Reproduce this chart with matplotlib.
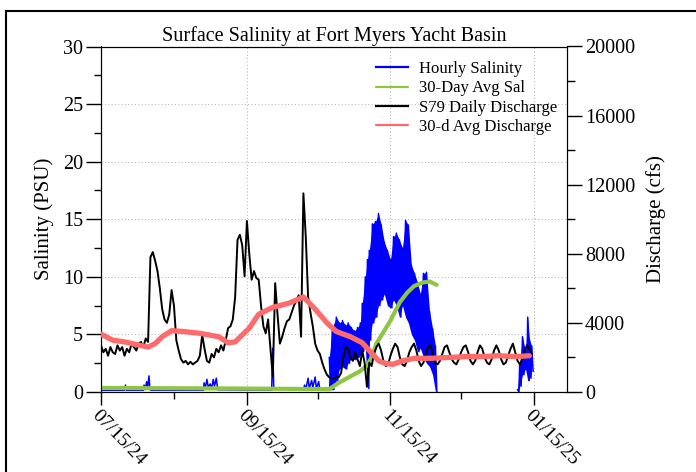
import numpy as np
import pandas as pd
import matplotlib
matplotlib.use("Agg")
import matplotlib.pyplot as plt
import matplotlib.dates as mdates
from matplotlib.patches import Rectangle

plt.rcParams['font.family'] = ['Liberation Serif', 'DejaVu Serif']

START = pd.Timestamp("2024-07-15")

# S79 daily discharge (cfs), one value per day starting 07/15/24
flow_daily = [
    2700, 2300, 2500, 2100, 2600, 2300, 2200, 2700, 2400, 2600,
    2100, 2500, 2300, 2800, 2600, 2400, 2800, 2900, 2600, 3100,
    2900, 7800, 8100, 7600, 7000, 6000, 4800, 4200, 4000, 4500,
    5900, 5000, 3000, 2400, 1900, 1700, 1800, 1600, 1750, 1600,
    1700, 1800, 2100, 3300, 2500, 1800, 1700, 2200, 2000, 2500,
    2300, 2700, 2400, 3000, 3700, 3800, 4200, 5500, 8800, 9100,
    8500, 6700, 9900, 8000, 6500, 7000, 6600, 6500, 5000, 3800,
    3400, 4200, 2500, 900, 6300, 4500, 2800, 3200, 3700, 4100,
    4200, 4600, 5000, 5300, 5600, 3200, 11500, 9000, 5500, 4600,
    3800, 2800, 2400, 2200, 1700, 1300, 1000, 850, 800, 800,
    850, 850, 1100, 2000, 2600, 2500, 2000, 1800, 2300, 1900,
    1500, 2400, 1700, 300, 1700, 1500, 2200, 2600, 2800, 2400,
    1800, 1500, 1600, 2100, 2500, 2800, 2600, 2000, 1600, 1500,
    1800, 2300, 2600, 2800, 2400, 1800, 1500, 1700, 2200, 2600,
    2700, 2200, 1700, 1600, 1800, 2200, 2600, 2700, 2300, 1900,
    1700, 1600, 1900, 2300, 2600, 2700, 2300, 1800, 1600, 1800,
    2300, 2700, 2500, 2000, 1700, 1600, 1900, 2400, 2700, 2400,
    1900, 1600, 1700, 2100, 2500, 2800, 2300, 1800, 1600, 1900,
    2400, 2700, 2500, 2200,
]

# 30-day average discharge (cfs)
avgq_days = [0, 5, 10, 15, 20, 23, 26, 30, 35, 42, 50, 54, 57, 60, 63, 67, 73,
             80, 86, 91, 96, 100, 106, 111, 115, 118, 121, 124, 128, 133, 140,
             148, 155, 162, 169, 176, 182]
avgq_vals = [3350, 3000, 2900, 2750, 2600, 2800, 3200, 3550, 3500, 3400, 3200,
             2850, 2900, 3300, 3700, 4500, 4900, 5150, 5500, 4800, 4000, 3500,
             3200, 2850, 2250, 1800, 1650, 1600, 1800, 1950, 1950, 2000, 2050,
             2050, 2100, 2050, 2100]

# 30-day average salinity (PSU)
avgs_days = [0, 59, 97, 101, 105.5, 110, 113, 115, 117, 120, 123, 127, 130,
             133, 136.6, 139.6, 142.6]
avgs_vals = [0.35, 0.3, 0.25, 0.8, 1.3, 1.8, 2.3, 3.0, 4.2, 5.2, 6.2, 7.8, 8.6,
             9.2, 9.5, 9.6, 9.3]

# hourly salinity, low period (PSU)
sal_low_days = [0, 10, 10.4, 10.8, 18, 18.3, 18.8, 19.4, 19.8, 20.4, 20.8, 21.3,
                43.5, 43.8, 44.3, 45, 45.6, 46.4, 47, 47.7, 48.2, 49, 49.6,
                72.5, 73, 73.4, 86, 86.5, 87, 88, 88.5, 89.5, 90, 91, 91.5,
                92.5, 93, 97]
sal_low_vals = [0.15, 0.15, 0.6, 0.15, 0.15, 0.6, 0.2, 0.9, 0.3, 1.4, 0.2, 0.15,
                0.15, 0.8, 0.3, 1.1, 0.4, 0.7, 0.3, 1.1, 0.5, 1.2, 0.2,
                0.15, 3.8, 0.3, 0.15, 0.6, 0.2, 1.2, 0.3, 1.0, 0.4, 1.3, 0.3,
                0.9, 0.15, 0.15]

# hourly salinity, tidal high / low envelope during the salty period
sal_hi_days = [97, 98.3, 100, 101.3, 102.6, 103.8, 105, 106.4, 107.7, 109,
               110.2, 111, 112.3, 113.2, 114, 115.3, 116.6, 117.9, 119.1,
               120.4, 121.7, 123, 124.3, 125.5, 126.8, 128.1, 129.4, 130.6,
               131.9, 133.2, 134.5, 135.7, 137, 138.3, 139.6, 140.9, 142.1]
sal_hi_up = [3.0, 5.6, 6.5, 6.0, 6.2, 5.8, 6.0, 5.6, 5.3, 5.6, 6.0, 7.7, 10.0,
             11.5, 12.3, 14.6, 14.8, 15.5, 14.5, 13.0, 12.3, 11.5, 13.5, 13.8,
             13.2, 12.5, 14.9, 14.5, 11.0, 10.3, 9.5, 8.5, 10.3, 10.4, 7.0,
             5.5, 4.0]
sal_hi_dn = [0.2, 0.2, 1.0, 2.0, 2.2, 2.0, 2.5, 3.0, 2.8, 3.0, 3.2, 3.5, 4.0,
             0.3, 4.5, 6.0, 6.5, 7.5, 8.0, 8.5, 7.5, 7.3, 8.0, 7.5, 6.5, 7.5,
             6.5, 6.0, 5.0, 4.5, 3.5, 3.8, 3.0, 2.5, 2.2, 1.5, 0.0]

# hourly salinity, last days in January
sal_end_days = [177, 177.9, 179.1, 180.4, 181.3, 182.1, 183]
sal_end_up = [0.2, 2.5, 4.8, 3.5, 6.5, 4.5, 4.0]
sal_end_dn = [0.0, 0.5, 1.5, 2.0, 1.0, 1.2, 1.8]


def to_dates(days):
    return START + pd.to_timedelta(np.asarray(days, dtype=float), unit="D")


def zigzag(days, up, dn, half=0.6):
    d, v = [], []
    for t, a, b in zip(days, up, dn):
        d += [t, t + half]
        v += [a, b]
    return d, v


BLUE = "#0000FF"

fig = plt.figure(figsize=(6.96, 4.72), dpi=100)
ax = fig.add_axes([101 / 696, 80 / 472, 466 / 696, 345.5 / 472])
ax2 = ax.twinx()

# hourly salinity: baseline trace, then the tidal band drawn as a filled envelope with jagged edges
ax.plot(to_dates(sal_low_days), sal_low_vals, color=BLUE, lw=1.1,
        label="Hourly Salinity", zorder=2)
for dd, up, dn in [(sal_hi_days, sal_hi_up, sal_hi_dn),
                   (sal_end_days, sal_end_up, sal_end_dn)]:
    ax.fill_between(to_dates(dd), dn, up, color=BLUE, lw=0, zorder=2)
    zd, zv = zigzag(dd, up, dn)
    ax.plot(to_dates(zd), zv, color=BLUE, lw=1.1, zorder=2)
ax.plot(to_dates([97, 98.3]), [0.15, 3.0], color=BLUE, lw=1.1, zorder=2)

ax.plot(to_dates(avgs_days), avgs_vals, color="#8DC641", lw=3.0,
        label="30-Day Avg Sal", zorder=3, solid_capstyle="round")
ax2.plot(to_dates(np.arange(len(flow_daily))), flow_daily, color="black", lw=1.4,
         label="S79 Daily Discharge", zorder=3)
ax2.plot(to_dates(avgq_days), avgq_vals, color="#FF6B6B", lw=3.8,
         label="30-d Avg Discharge", zorder=4, solid_capstyle="round")

ax.set_xlim(pd.Timestamp("2024-07-15"), pd.Timestamp("2025-01-29"))
ax.set_ylim(0, 30)
ax2.set_ylim(0, 20000)

ax.xaxis.set_major_locator(mdates.MonthLocator(bymonth=[1, 3, 5, 7, 9, 11], bymonthday=15))
ax.xaxis.set_minor_locator(mdates.MonthLocator(bymonth=[2, 4, 6, 8, 10, 12], bymonthday=15))
ax.xaxis.set_major_formatter(mdates.DateFormatter("%m/%d/%y"))
ax.set_yticks(np.arange(0, 31, 5))
ax.set_yticks(np.arange(0, 31, 2.5), minor=True)
ax2.set_yticks(np.arange(0, 20001, 4000))
ax2.set_yticks(np.arange(0, 20001, 2000), minor=True)

ax.grid(True, which="major", color="#BBBBBB", linestyle=(0, (1, 2)), lw=0.8)
ax.set_axisbelow(True)

ax.tick_params(axis="y", which="major", length=11, width=1, labelsize=14.5, pad=2)
ax.tick_params(axis="y", which="minor", length=5, width=1)
ax.tick_params(axis="x", which="major", length=9, width=1, labelsize=14, pad=2)
ax.tick_params(axis="x", which="minor", length=5, width=1)
ax2.tick_params(axis="y", which="major", length=11, width=1, labelsize=14.5, pad=2)
ax2.tick_params(axis="y", which="minor", length=6, width=1)

for lab in ax.get_xticklabels():
    lab.set_rotation(-46)
    lab.set_ha("left")
    lab.set_va("top")
    lab.set_rotation_mode("anchor")

ax.set_ylabel("Salinity (PSU)", fontsize=15, labelpad=6)
ax2.set_ylabel("Discharge (cfs)", fontsize=15, labelpad=8)
ax.set_title("Surface Salinity at Fort Myers Yacht Basin", fontsize=14.5, pad=3)

h1, l1 = ax.get_legend_handles_labels()
h2, l2 = ax2.get_legend_handles_labels()
leg = ax2.legend(h1 + h2, l1 + l2, loc="upper left", bbox_to_anchor=(0.59, 0.958),
                 frameon=False, fontsize=12, handlelength=1.9, handletextpad=0.7,
                 labelspacing=0.2, borderpad=0, borderaxespad=0)
for ln in leg.get_lines():
    ln.set_linewidth(1.6)

fig.add_artist(Rectangle((6 / 696, -0.05), 1.0, 1 - 11 / 472 + 0.05,
                         transform=fig.transFigure, fill=False, lw=1.5, ec="black"))

fig.savefig("out.png", dpi=100)
